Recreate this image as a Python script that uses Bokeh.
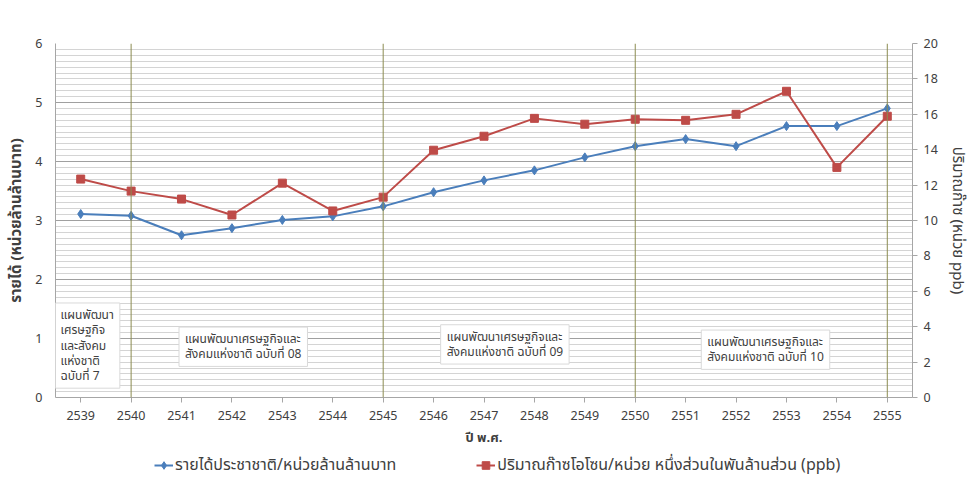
from bokeh.plotting import figure
from bokeh.layouts import column
from bokeh.models import (Range1d, LinearAxis, FixedTicker, Label, Legend, LegendItem, Span)
from bokeh.embed import file_html
from bokeh.resources import INLINE

years = [2539, 2540, 2541, 2542, 2543, 2544, 2545, 2546, 2547, 2548,
         2549, 2550, 2551, 2552, 2553, 2554, 2555]
income = [3.11, 3.08, 2.75, 2.87, 3.01, 3.07, 3.24, 3.48, 3.68, 3.85,
          4.07, 4.26, 4.38, 4.26, 4.60, 4.60, 4.90]
ozone = [12.34, 11.66, 11.21, 10.31, 12.11, 10.54, 11.32, 13.97, 14.76, 15.77,
         15.44, 15.72, 15.66, 16.0, 17.3, 13.0, 15.89]
plan_years = [2540, 2545, 2550, 2555]
plan_labels = [
    "แผนพัฒนา\nเศรษฐกิจ\nและสังคม\nแห่งชาติ\nฉบับที่ 7",
    "แผนพัฒนาเศรษฐกิจและ\nสังคมแห่งชาติ ฉบับที่ 08",
    "แผนพัฒนาเศรษฐกิจและ\nสังคมแห่งชาติ ฉบับที่ 09",
    "แผนพัฒนาเศรษฐกิจและ\nสังคมแห่งชาติ ฉบับที่ 10",
]
series_names = ["รายได้ประชาชาติ/หน่วยล้านล้านบาท",
                "ปริมาณก๊าซโอโซน/หน่วย หนึ่งส่วนในพันล้านส่วน (ppb)"]

FONT = "Tahoma, 'Noto Sans Thai', 'Noto Sans', sans-serif"
BLUE = "#4A7EBB"
RED = "#BE4B48"
TXT = "#404040"

p = figure(width=971, height=450, output_backend="svg", toolbar_location=None,
           x_range=Range1d(2538.5, 2555.5), y_range=Range1d(0, 6),
           min_border_left=55, min_border_right=56, min_border_top=43,
           min_border_bottom=52)
p.outline_line_color = None
p.extra_y_ranges = {"oz": Range1d(0, 20)}

# grids
p.xgrid.grid_line_color = None
p.yaxis.ticker = FixedTicker(ticks=list(range(0, 7)),
                             minor_ticks=[i / 10 for i in range(0, 61)])
p.ygrid.grid_line_color = "#A0A0A0"
p.ygrid.grid_line_width = 1
p.ygrid.minor_grid_line_color = "#D4D4D4"
p.ygrid.minor_grid_line_width = 1

# axes
p.xaxis.ticker = FixedTicker(ticks=years)
p.xaxis.major_label_overrides = {y: str(y) for y in years}
p.xaxis.axis_label = "ปี พ.ศ."
p.yaxis.axis_label = "รายได้ (หน่วยล้านล้านบาท)"
for ax in [p.xaxis[0], p.yaxis[0]]:
    ax.major_label_text_font = FONT
    ax.major_label_text_font_size = "12.5px"
    ax.major_label_text_color = TXT
    ax.axis_label_text_font = FONT
    ax.axis_label_text_font_size = "15px"
    ax.axis_label_text_font_style = "bold"
    ax.axis_label_text_color = TXT
    ax.minor_tick_line_color = None
    ax.axis_line_color = "#A6A6A6"
    ax.major_tick_line_color = "#A6A6A6"
p.xaxis.axis_label_text_font_size = "13px"
p.xaxis.major_tick_out = 5
p.xaxis.major_tick_in = 0
p.xaxis.major_label_standoff = 8
p.xaxis.axis_label_standoff = 5
p.yaxis.major_tick_out = 0
p.yaxis.major_tick_in = 0
p.yaxis.major_label_standoff = 9
p.yaxis.axis_label_standoff = 4

ax2 = LinearAxis(y_range_name="oz", ticker=FixedTicker(ticks=list(range(0, 21, 2))),
                 axis_label="ปริมาณก๊าซ (หน่วย ppb)")
ax2.major_label_text_font = FONT
ax2.major_label_text_font_size = "12.5px"
ax2.major_label_text_color = TXT
ax2.axis_label_text_font = FONT
ax2.axis_label_text_font_size = "15px"
ax2.axis_label_text_font_style = "normal"
ax2.axis_label_text_color = TXT
ax2.minor_tick_line_color = None
ax2.axis_line_color = "#A6A6A6"
ax2.major_tick_line_color = "#A6A6A6"
ax2.major_tick_out = 5
ax2.major_tick_in = 0
ax2.major_label_standoff = 6
ax2.axis_label_standoff = 5
p.add_layout(ax2, "right")

# plan boundary lines
for py in plan_years:
    p.add_layout(Span(location=py, dimension="height", line_color="#8C8C50",
                      line_width=1))

# series
p.line(years, income, line_color=BLUE, line_width=2)
p.scatter(years, income, marker="diamond", size=9, fill_color=BLUE, line_color=BLUE)
p.line(years, ozone, line_color=RED, line_width=2, y_range_name="oz")
p.scatter(years, ozone, marker="square", size=8, fill_color=RED, line_color=RED,
          y_range_name="oz")

# plan annotation boxes
box_pos = [(2538.48, 0.88), (2540.95, 0.86), (2546.14, 0.9), (2551.31, 0.81)]
for (bx, by), txt in zip(box_pos, plan_labels):
    p.add_layout(Label(x=bx, y=by, text=txt, text_font=FONT,
                       text_font_size="12px", text_color=TXT,
                       text_align="left", text_baseline="middle",
                       background_fill_color="white",
                       border_line_color="#D9D9D9", padding=(6, 3),
                       text_line_height=0.85))

# legend strip (separate figure, below the axis title); its glyphs use the
# real series but lie outside this strip's ranges, so only the legend shows
lg = figure(width=971, height=40, output_backend="svg", toolbar_location=None,
            x_range=Range1d(0, 1), y_range=Range1d(0, 1),
            x_axis_location=None, y_axis_location=None,
            min_border_left=0, min_border_right=0, min_border_top=0,
            min_border_bottom=0)
lg.grid.visible = False
lg.outline_line_color = None
el1 = lg.line(years, income, line_color=BLUE, line_width=2)
em1 = lg.scatter(years, income, marker="diamond", size=9, fill_color=BLUE, line_color=BLUE)
el2 = lg.line(years, ozone, line_color=RED, line_width=2)
em2 = lg.scatter(years, ozone, marker="square", size=8, fill_color=RED, line_color=RED)
legend = Legend(items=[LegendItem(label=series_names[0], renderers=[el1, em1]),
                       LegendItem(label=series_names[1], renderers=[el2, em2])],
                orientation="horizontal", location=(99, 13),
                label_text_font=FONT, label_text_font_size="16px",
                label_text_color=TXT, border_line_color=None,
                background_fill_alpha=0, glyph_width=19, spacing=80,
                label_standoff=2, padding=0, margin=0)
lg.add_layout(legend, "center")

layout = column(p, lg, spacing=0)

open("out.html", "w").write(file_html(layout, INLINE))
